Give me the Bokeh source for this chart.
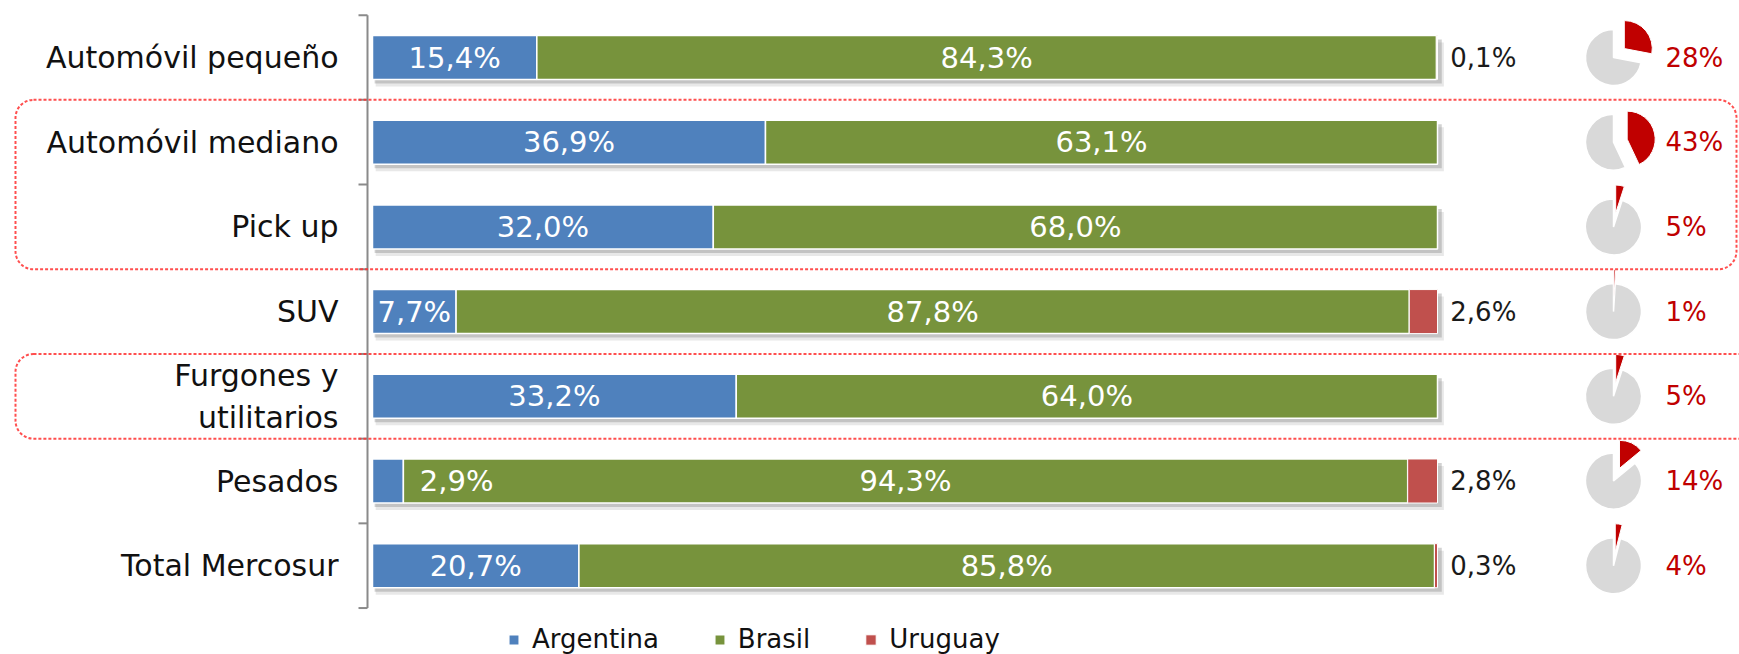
import numpy as np
from bokeh.plotting import figure
from bokeh.models import Range1d, ColumnDataSource, BoxAnnotation, Legend, LegendItem
from bokeh.core.properties import value
from bokeh.embed import file_html
from bokeh.resources import INLINE

# ---------------- data ----------------
categories = ["Automóvil pequeño", "Automóvil mediano", "Pick up", "SUV",
              "Furgones y\nutilitarios", "Pesados", "Total Mercosur"]
argentina = [15.4, 36.9, 32.0, 7.7, 33.2, 2.9, 20.7]
brasil = [84.3, 63.1, 68.0, 87.8, 64.0, 94.3, 85.8]
uruguay = [0.1, 0.0, 0.0, 2.6, 0.0, 2.8, 0.3]
share_pct = [28, 43, 5, 1, 5, 14, 4]
series_names = ["Argentina", "Brasil", "Uruguay"]
groups = [(1, 2), (4, 4)]   # rows framed by dashed boxes

# ---------------- style / layout ----------------
colors = ["#4F81BD", "#77933C", "#C0504D"]
FONT = "DejaVu Sans"
W, H = 1739, 654
PX_X = 10.65     # px per percent unit
X0_PX = 372      # pixel of 0 %
PX_Y = 84.7      # px per row
Y0_PX = 57       # pixel of the first row centre
BAR_H = 0.52

def fmt(v):
    return f"{v:.1f}".replace(".", ",") + "%"

def dx(px):
    return (px - X0_PX) / PX_X

n = len(categories)
idx = np.arange(n, dtype=float)
a = np.array(argentina); b = np.array(brasil); u = np.array(uruguay)
tot = a + b + u
a_n = a / tot * 100
b_n = b / tot * 100
u_n = u / tot * 100

p = figure(width=W, height=H,
           x_range=Range1d(dx(0), dx(W)),
           y_range=Range1d((H - Y0_PX) / PX_Y, -Y0_PX / PX_Y),
           output_backend="svg", toolbar_location=None,
           x_axis_location=None, y_axis_location=None,
           min_border=0, outline_line_color=None)
p.grid.visible = False
p.background_fill_color = "white"

# shadows
p.hbar(y=idx + 7 / PX_Y, left=0.3, right=100.6, height=BAR_H,
       fill_color="#7f7f7f", fill_alpha=0.18, line_color=None)
p.hbar(y=idx + 4 / PX_Y, left=0.2, right=100.4, height=BAR_H,
       fill_color="#7f7f7f", fill_alpha=0.35, line_color=None)

src = ColumnDataSource(dict(y=idx, a0=np.zeros(n), a1=a_n, b1=a_n + b_n, u1=a_n + b_n + u_n))
r_a = p.hbar(y="y", left="a0", right="a1", height=BAR_H, source=src,
             fill_color=colors[0], line_color="white", line_width=1.5)
r_b = p.hbar(y="y", left="a1", right="b1", height=BAR_H, source=src,
             fill_color=colors[1], line_color="white", line_width=1.5)
r_u = p.hbar(y="y", left="b1", right="u1", height=BAR_H, source=src,
             fill_color=colors[2], line_color="white", line_width=1.0)

# axis line and boundary ticks
ax_x = dx(367)
p.segment(x0=[ax_x], y0=[-0.5], x1=[ax_x], y1=[n - 0.5], line_color="#8a8a8a", line_width=2)
tick_y = np.arange(n + 1) - 0.5
p.segment(x0=np.full(n + 1, ax_x - 9 / PX_X), y0=tick_y, x1=np.full(n + 1, ax_x), y1=tick_y,
          line_color="#8a8a8a", line_width=2)

# category labels
p.text(x=np.full(n, dx(338)), y=idx, text=categories,
       text_align="right", text_baseline="middle", text_font=value(FONT),
       text_font_size="30px", text_color="#111111", text_line_height=1.2)

# data labels in bars
a_lx = np.where(a_n >= 5, a_n / 2, a_n + 5.0)
p.text(x=a_lx, y=idx, text=[fmt(v) for v in argentina], text_align="center",
       text_baseline="middle", text_font=value(FONT), text_font_size="29px", text_color="white")
p.text(x=a_n + b_n / 2, y=idx, text=[fmt(v) for v in brasil], text_align="center",
       text_baseline="middle", text_font=value(FONT), text_font_size="29px", text_color="white")
mask = u > 0
p.text(x=np.full(mask.sum(), 101.2), y=idx[mask], text=[fmt(v) for v in u[mask]],
       text_align="left", text_baseline="middle", text_font=value(FONT),
       text_font_size="26px", text_color="#1a1a1a")

# pies
pie_x = dx(1613)
frac = np.array(share_pct) / 100.0
R = 28
EXP = 14
p.wedge(x=np.full(n, pie_x), y=idx, radius=R, radius_units="screen",
        start_angle=np.full(n, np.pi / 2), end_angle=np.pi / 2 + 2 * np.pi * (1 - frac),
        fill_color="#D9D9D9", line_color="white", line_width=1.5)
bis = np.pi / 2 - np.pi * frac
p.wedge(x=pie_x + EXP * np.cos(bis) / PX_X, y=idx - EXP * np.sin(bis) / PX_Y,
        radius=R, radius_units="screen",
        start_angle=np.pi / 2 - 2 * np.pi * frac, end_angle=np.full(n, np.pi / 2),
        fill_color="#C00000", line_color="white", line_width=1.0)
p.text(x=np.full(n, dx(1665)), y=idx, text=[f"{v}%" for v in share_pct],
       text_align="left", text_baseline="middle", text_font=value(FONT),
       text_font_size="26px", text_color="#C00000")

# dashed rounded group boxes
rights = [dx(1736), dx(1790)]
for (g0, g1), rr in zip(groups, rights):
    p.add_layout(BoxAnnotation(left=dx(15), right=rr, top=g0 - 0.5, bottom=g1 + 0.5,
                               fill_color=None, fill_alpha=0, line_color="#FF3030",
                               line_alpha=0.85, line_width=2, line_dash="3 2",
                               border_radius=18))

legend = Legend(items=[LegendItem(label=series_names[0], renderers=[r_a]),
                       LegendItem(label=series_names[1], renderers=[r_b]),
                       LegendItem(label=series_names[2], renderers=[r_u])],
                orientation="horizontal", location=(507, 0), padding=0, margin=0,
                spacing=54, glyph_width=13, glyph_height=13, label_standoff=12,
                label_text_font=FONT, label_text_font_size="26px",
                label_text_color="#111111", border_line_color=None,
                background_fill_alpha=0)
p.add_layout(legend)

open("out.html", "w").write(file_html(p, INLINE))
